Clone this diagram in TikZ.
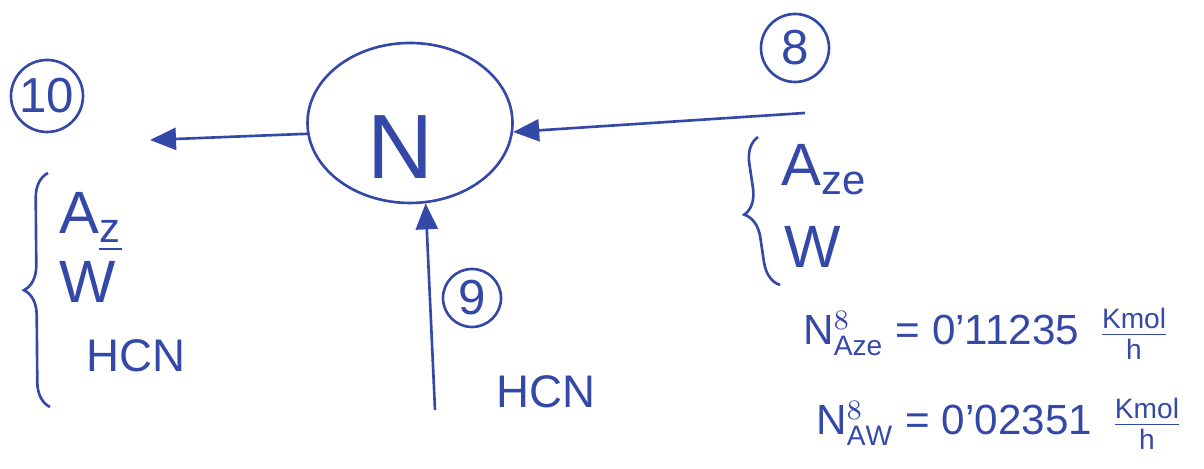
\documentclass[tikz,border=0pt]{standalone}
\usepackage{amsmath}
\usepackage{fontspec}
\setmainfont{Liberation Sans}
\usetikzlibrary{arrows.meta,positioning,shapes.geometric,decorations.pathreplacing}
\definecolor{ink}{RGB}{52,72,168}

\begin{document}
\begin{tikzpicture}[
  ink, line width=0.75pt,
  >={Triangle[length=2.6mm,width=2.2mm]},
  unit/.style={draw,ellipse,minimum width=20.5mm,minimum height=16mm,inner sep=0pt},
  sid/.style={draw,circle,inner sep=0pt,minimum size=#1,font=\fontsize{14}{16}\selectfont},
  flow/.style={->},
  comp/.style={anchor=west,inner sep=0pt,font=\fontsize{17}{19}\selectfont},
  eqn/.style={anchor=base west,inner sep=0pt,font=\fontsize{12}{15}\selectfont},
  curly/.style={decorate,decoration={brace,amplitude=#1}},
]
\useasboundingbox (0,0) rectangle (12.04,4.69);

% --- unit N and the stream numbers ---
\node[unit] (sep) at (4.10,3.46) {};
\node[font=\fontsize{26}{28}\selectfont] (sepname) at (4.00,3.22) {N};
\node[sid=7.2mm] (s10) at (0.47,3.73) {10};
\node[sid=6.8mm] (s8)  at (7.95,4.21) {8};
\node[sid=5.8mm] (s9)  at (4.72,1.71) {9};

% --- free ends of the streams ---
\coordinate (out10) at (1.50,3.29);
\coordinate (in8)   at (8.05,3.56);
\coordinate (in9)   at (4.35,0.59);

\draw[flow] (sep.186) -- (out10);
\draw[flow] (in8) -- (sep.-5);
\draw[flow] (in9) -- (sep.-79);

% --- stream 10: components ---
\draw[curly=2.5mm] (0.50,0.62) -- (0.48,2.96);
\node[comp] (az10)  at (0.58,2.47) {A$_{\underline{\mathrm{z}}}$};
\node[comp] (w10)   at (0.58,1.87) {W};
\node[comp,font=\fontsize{13}{15}\selectfont] (hcn10) at (0.85,1.13) {HCN};

% --- stream 9 ---
\node[comp,font=\fontsize{13}{15}\selectfont] (hcn9) at (4.95,0.77) {HCN};

% --- stream 8: components and flows ---
\draw[curly=2.5mm] (7.80,1.84) -- (7.58,3.32);
\node[comp] (az8) at (7.80,2.99) {A$_{\mathrm{ze}}$};
\node[comp] (w8)  at (7.83,2.22) {W};
\node[eqn] (naz8) at (8.02,1.24)
  {$\mathrm{N}^{8}_{\mathrm{Aze}}$ = 0'11235 \,$\frac{\mathrm{Kmol}}{\mathrm{h}}$};
\node[eqn] (nw8) at (8.15,0.34)
  {$\mathrm{N}^{8}_{\mathrm{AW}}$ = 0'02351 \,$\frac{\mathrm{Kmol}}{\mathrm{h}}$};

\end{tikzpicture}
\end{document}
